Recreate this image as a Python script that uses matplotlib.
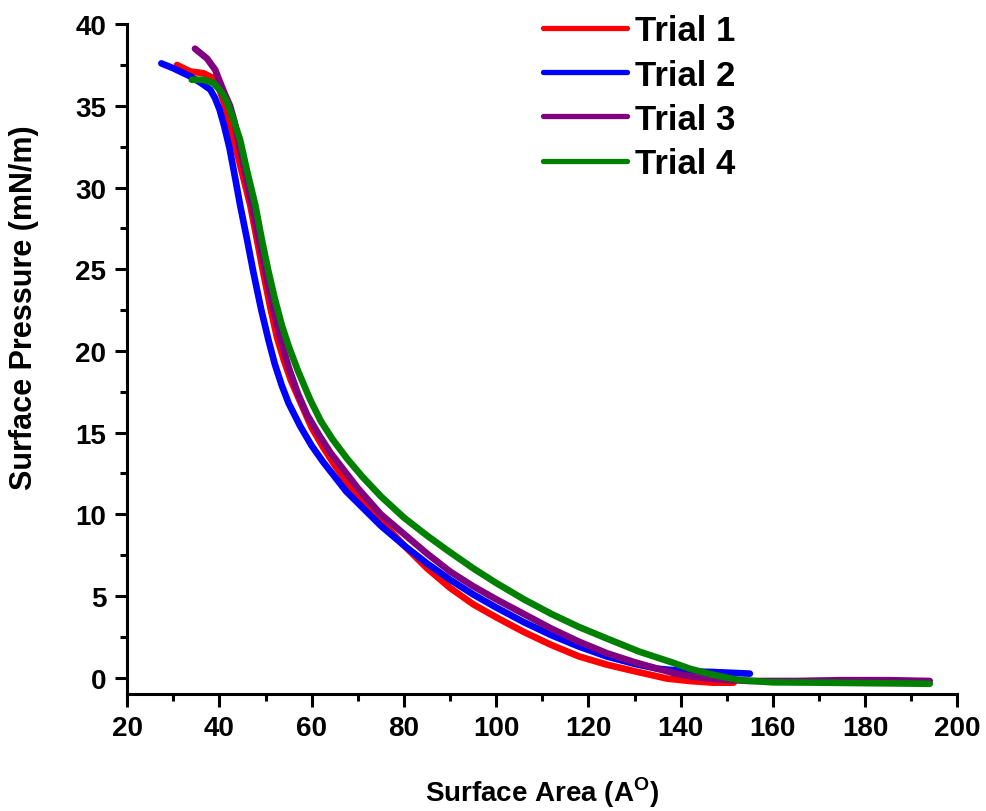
import numpy as np
import matplotlib
matplotlib.use("Agg")
import matplotlib.pyplot as plt
from matplotlib.ticker import MultipleLocator

plt.rcParams['font.family'] = ['Liberation Sans', 'DejaVu Sans']
plt.rcParams['font.weight'] = 'bold'
plt.rcParams['mathtext.fontset'] = 'custom'
plt.rcParams['mathtext.rm'] = 'Liberation Sans:bold'
plt.rcParams['mathtext.bf'] = 'Liberation Sans:bold'

# surface pressure isotherms, four trials
area_1 = [30.8, 33.7, 36.5, 38.7, 40.0, 41.0, 42.0, 43.5, 45.0, 46.7, 48.0, 49.5, 51.0, 52.5,
          54.0, 55.5, 57.5, 60.0, 62.5, 65.0, 67.5, 70.0, 75.0, 80.0, 85.0, 90.0, 95.0, 100.0,
          106.0, 112.0, 118.0, 124.0, 130.0, 137.0, 142.0, 147.0, 151.5]
pres_1 = [37.5, 37.1, 37.0, 36.7, 36.0, 35.2, 34.2, 32.5, 30.8, 28.9, 27.0, 24.8, 22.7, 20.8,
          19.4, 18.2, 16.9, 15.3, 14.1, 13.0, 12.0, 11.1, 9.6, 8.1, 6.7, 5.5, 4.5, 3.7,
          2.8, 2.0, 1.3, 0.8, 0.4, -0.05, -0.2, -0.3, -0.3]

area_2 = [27.4, 30.0, 33.7, 36.0, 38.0, 39.0, 40.0, 41.0, 42.2, 43.4, 44.5, 46.0, 47.3, 49.0,
          50.6, 52.0, 53.5, 55.0, 57.5, 60.0, 62.5, 65.0, 67.5, 70.0, 75.0, 80.0, 85.0, 90.0,
          95.0, 100.0, 106.0, 112.0, 118.0, 124.0, 130.0, 135.0, 139.0, 143.0, 147.0, 151.0,
          155.0]
pres_2 = [37.6, 37.3, 36.8, 36.4, 36.0, 35.5, 34.8, 33.8, 32.4, 30.6, 28.9, 26.8, 24.9, 22.6,
          20.7, 19.2, 17.9, 16.8, 15.4, 14.2, 13.2, 12.3, 11.4, 10.7, 9.3, 8.1, 7.0, 6.0,
          5.1, 4.3, 3.4, 2.6, 1.9, 1.3, 0.85, 0.55, 0.45, 0.38, 0.35, 0.3, 0.25]

area_3 = [34.7, 37.3, 39.1, 40.2, 41.2, 42.3, 43.2, 44.0, 45.5, 47.0, 48.5, 50.0, 51.5, 53.0,
          55.0, 57.0, 59.0, 61.5, 64.0, 67.0, 70.0, 75.0, 80.0, 85.0, 90.0, 95.0, 100.0,
          106.0, 112.0, 118.0, 124.0, 130.0, 135.0, 139.0, 143.0, 148.0, 155.0, 165.0, 175.0,
          185.0, 194.0]
pres_3 = [38.5, 37.9, 37.2, 36.4, 35.7, 35.0, 34.1, 33.0, 31.0, 29.0, 26.9, 24.8, 22.8, 21.0,
          19.0, 17.4, 16.1, 14.9, 13.8, 12.7, 11.6, 10.0, 8.8, 7.6, 6.5, 5.6, 4.8,
          3.9, 3.0, 2.2, 1.5, 0.95, 0.55, 0.25, 0.05, -0.1, -0.2, -0.2, -0.15, -0.15, -0.2]

area_4 = [34.0, 36.5, 38.7, 40.0, 41.0, 41.7, 43.0, 44.5, 46.0, 47.8, 49.2, 50.6, 52.0, 53.5,
          55.0, 57.0, 59.7, 62.0, 64.5, 67.7, 71.0, 75.0, 80.0, 85.0, 89.4, 95.0, 100.0,
          106.0, 112.0, 118.0, 124.0, 131.0, 138.0, 142.0, 146.0, 150.0, 153.0, 160.0, 170.0,
          180.0, 188.0, 194.0]
pres_4 = [36.6, 36.6, 36.4, 36.0, 35.6, 35.2, 34.2, 32.9, 31.0, 28.9, 26.8, 24.9, 23.2, 21.6,
          20.3, 18.8, 17.0, 15.7, 14.6, 13.4, 12.3, 11.1, 9.8, 8.7, 7.8, 6.7, 5.8, 4.8,
          3.9, 3.1, 2.4, 1.6, 0.95, 0.55, 0.25, 0.0, -0.15, -0.28, -0.3, -0.33, -0.35, -0.37]

labels = ['Trial 1', 'Trial 2', 'Trial 3', 'Trial 4']
colors = ['#ff0000', '#0000ff', '#800080', '#008000']

fig = plt.figure(figsize=(9.86, 8.12), dpi=100)
ax = fig.add_axes([0.129, 0.144, 0.842, 0.825])

series = [(area_1, pres_1), (area_2, pres_2), (area_3, pres_3), (area_4, pres_4)]
for (x, y), lab, c in zip(series, labels, colors):
    ax.plot(x, y, color=c, lw=4.8, label=lab, solid_capstyle='round', solid_joinstyle='round')

ax.set_xlim(20, 200)
ax.set_ylim(-1, 40)
ax.xaxis.set_major_locator(MultipleLocator(20))
ax.xaxis.set_minor_locator(MultipleLocator(10))
ax.yaxis.set_major_locator(MultipleLocator(5))
ax.yaxis.set_minor_locator(MultipleLocator(2.5))

for s in ['top', 'right']:
    ax.spines[s].set_visible(False)
for s in ['left', 'bottom']:
    ax.spines[s].set_linewidth(2.2)

ax.tick_params(which='major', direction='out', length=9, width=2.2, labelsize=20, pad=6)
ax.tick_params(which='minor', direction='out', length=5, width=2.2)

ax.set_xlabel(r'Surface Area (A$^{\mathbf{O}}$)', fontsize=20, fontweight='bold', labelpad=24)
ax.set_ylabel('Surface Pressure (mN/m)', fontsize=22, fontweight='bold')
ax.yaxis.set_label_coords(-0.106, 0.579)

leg = ax.legend(loc='upper left', bbox_to_anchor=(0.551, 0.981), bbox_transform=fig.transFigure,
                frameon=False, fontsize=25, handlelength=2.4, handletextpad=0.25,
                labelspacing=0.32, borderpad=0, borderaxespad=0)
for line in leg.get_lines():
    line.set_linewidth(3.8)
    line.set_solid_capstyle('round')

fig.savefig('out.png', dpi=100)
